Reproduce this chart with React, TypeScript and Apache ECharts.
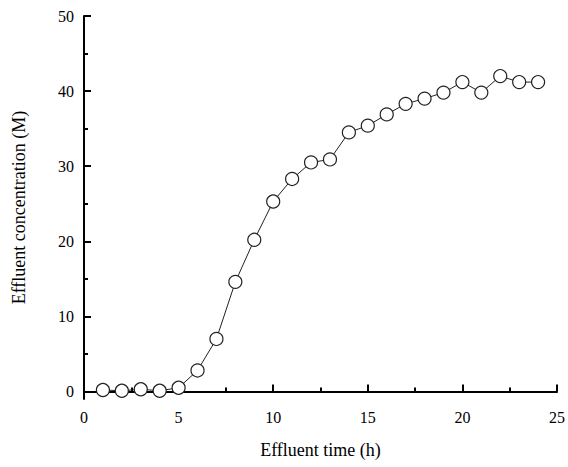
import React, { useEffect, useRef } from "react";
import * as echarts from "echarts";

const timeH = [1, 2, 3, 4, 5, 6, 7, 8, 9, 10, 11, 12, 13, 14, 15, 16, 17, 18, 19, 20, 21, 22, 23, 24];
const concentration = [0.2, 0.1, 0.3, 0.1, 0.5, 2.8, 7.0, 14.6, 20.2, 25.3, 28.3, 30.5, 30.9, 34.5, 35.4, 36.9, 38.3, 39.0, 39.8, 41.2, 39.8, 42.0, 41.2, 41.2];
const yMajorTicks = [0, 10, 20, 30, 40, 50];
const yMinorTicks = [5, 15, 25, 35, 45];

export default function App() {
  const ref = useRef<HTMLDivElement>(null);
  useEffect(() => {
    if (!ref.current) return;
    const chart = echarts.init(ref.current, undefined, { renderer: "svg" });
    const font = "Liberation Serif";
    const axisLineStyle = { color: "#000", width: 2 };
    chart.setOption({
      animation: false,
      backgroundColor: "#fff",
      grid: { left: 84, top: 16, right: 7, bottom: 68 },
      xAxis: {
        type: "value",
        min: 0,
        max: 25,
        interval: 5,
        name: "Effluent time (h)",
        nameLocation: "middle",
        nameGap: 42,
        nameTextStyle: { fontFamily: font, fontSize: 18, color: "#000" },
        axisLine: { show: true, lineStyle: axisLineStyle },
        axisTick: { show: true, inside: true, length: 7, lineStyle: { color: "#000", width: 2 } },
        minorTick: { show: true, splitNumber: 2, length: 4, lineStyle: { color: "#000", width: 2 } },
        axisLabel: { fontFamily: font, fontSize: 16, color: "#000", margin: 10 },
        splitLine: { show: false },
      },
      yAxis: [
        {
          type: "value",
          min: -1,
          max: 50,
          name: "Effluent concentration (M)",
          nameLocation: "middle",
          nameGap: 56,
          nameTextStyle: { fontFamily: font, fontSize: 18, color: "#000" },
          axisLine: { show: true, lineStyle: axisLineStyle },
          axisTick: { show: true, inside: true, length: 7, customValues: yMajorTicks, lineStyle: { color: "#000", width: 2 } },
          axisLabel: { fontFamily: font, fontSize: 16, color: "#000", margin: 10, customValues: yMajorTicks },
          splitLine: { show: false },
        },
        {
          type: "value",
          min: -1,
          max: 50,
          position: "left",
          axisLine: { show: false },
          axisTick: { show: true, inside: true, length: 4, customValues: yMinorTicks, lineStyle: { color: "#000", width: 2 } },
          axisLabel: { show: false },
          splitLine: { show: false },
        },
      ],
      series: [
        {
          type: "line",
          yAxisIndex: 0,
          data: timeH.map((t, i) => [t, concentration[i]]),
          symbol: "circle",
          symbolSize: 13,
          lineStyle: { color: "#222", width: 1 },
          itemStyle: { color: "#fff", borderColor: "#222", borderWidth: 1.2 },
        },
      ],
    });
    return () => chart.dispose();
  }, []);
  return <div ref={ref} style={{ width: 568, height: 467, position: "absolute", left: 0, top: 0 }} />;
}
